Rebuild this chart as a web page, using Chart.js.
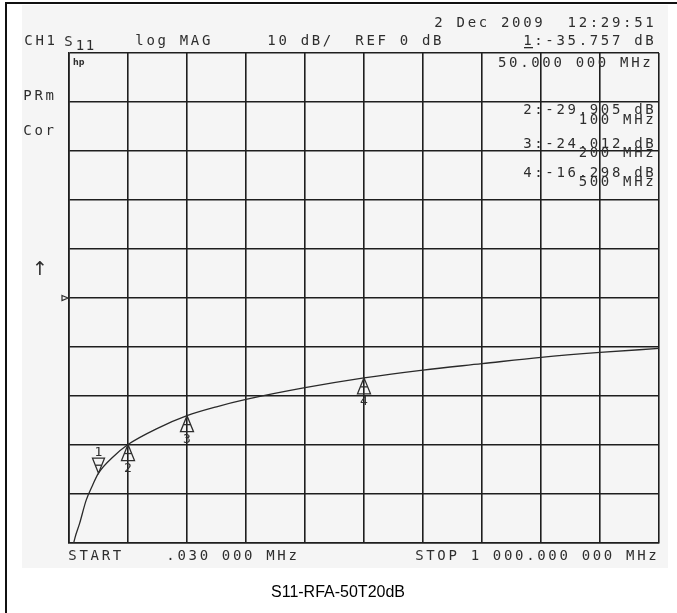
<!DOCTYPE html>
<html><head><meta charset="utf-8">
<script src="https://cdn.jsdelivr.net/npm/chart.js@4.4.1/dist/chart.umd.min.js"></script>
<style>html,body{margin:0;padding:0;background:#fff;}canvas{display:block}</style>
</head><body>
<canvas id="c" width="677" height="613"></canvas>
<script>
// ---- data ----
const freqMHz = [0.03, 5, 10, 18, 29, 40, 50, 75, 100, 150, 200, 250, 300, 400, 500, 600, 700, 800, 900, 1000];
const s11dB   = [-58, -52, -49, -46, -41.3, -38.2, -35.757, -32.4, -29.905, -26.6, -24.012, -22.2, -20.7, -18.3, -16.298, -14.7, -13.4, -12.1, -11.1, -10.3];
const markerNums  = ['1', '2', '3', '4'];
const markerFreqs = [50, 100, 200, 500];
const markerVals  = [-35.757, -29.905, -24.012, -16.298];
const markerFreqLabels = ['50.000 000 MHz', '100 MHz', '200 MHz', '500 MHz'];
const xTicks = [0, 100, 200, 300, 400, 500, 600, 700, 800, 900, 1000];
const yTicks = [-50, -40, -30, -20, -10, 0, 10, 20, 30, 40, 50];
const refLevel = 0;

const INK = '#2e2e2e';
const MONO = '"DejaVu Sans Mono", "Liberation Mono", monospace';

function mono(ctx, s, x, y, align, pitch) {
  pitch = pitch || 11.1;
  const n = s.length;
  const x0 = align === 'right' ? x - n * pitch : x;
  ctx.save();
  ctx.textAlign = 'center';
  ctx.textBaseline = 'alphabetic';
  for (let i = 0; i < n; i++) {
    ctx.fillText(s[i], x0 + i * pitch + pitch / 2, y);
  }
  ctx.restore();
}

const bgPlugin = {
  id: 'bg',
  beforeDraw(chart) {
    const ctx = chart.ctx;
    ctx.save();
    ctx.fillStyle = '#fff';
    ctx.fillRect(0, 0, 677, 613);
    ctx.fillStyle = '#f5f5f5';
    ctx.fillRect(22, 5, 646, 563);
    ctx.fillStyle = '#111';
    ctx.fillRect(5, 2, 672, 2);
    ctx.fillRect(5, 2, 2, 611);
    ctx.restore();
  }
};

const annoPlugin = {
  id: 'anno',
  afterDraw(chart) {
    const ctx = chart.ctx;
    const xs = chart.scales.x, ys = chart.scales.y;
    ctx.save();
    ctx.fillStyle = INK;
    ctx.strokeStyle = INK;
    ctx.font = '14px ' + MONO;
    // header
    mono(ctx, '2 Dec 2009  12:29:51', 655, 27, 'right');
    mono(ctx, 'CH1', 23, 45, 'left');
    mono(ctx, 'S', 63, 46, 'left');
    mono(ctx, '11', 75, 50, 'left', 10);
    mono(ctx, 'log MAG', 134, 45, 'left');
    mono(ctx, '10 dB/', 266, 45, 'left');
    mono(ctx, 'REF 0 dB', 354, 45, 'left');
    mono(ctx, '1:-35.757 dB', 655, 45, 'right');
    ctx.fillRect(524, 47, 9, 1.3);
    // marker readouts
    mono(ctx, markerFreqLabels[0], 652, 67, 'right');
    const rows = [[114, 124], [148, 157], [177, 186]];
    for (let i = 1; i < 4; i++) {
      mono(ctx, markerNums[i] + ':-' + Math.abs(markerVals[i]).toFixed(3) + ' dB', 655, rows[i - 1][0], 'right');
      mono(ctx, markerFreqLabels[i], 655, rows[i - 1][1], 'right');
    }
    // left annotations
    mono(ctx, 'PRm', 22, 100, 'left');
    mono(ctx, 'Cor', 22, 135, 'left');
    ctx.font = '19px "DejaVu Sans", sans-serif';
    ctx.textAlign = 'center';
    ctx.fillText('\u2191', 40, 275);
    // reference position marker
    const ry = ys.getPixelForValue(refLevel);
    ctx.lineWidth = 1.2;
    ctx.beginPath();
    ctx.moveTo(62, ry - 2.5); ctx.lineTo(68, ry); ctx.lineTo(62, ry + 2.5); ctx.closePath();
    ctx.stroke();
    // hp logo
    ctx.font = 'bold 8px "DejaVu Sans", sans-serif';
    ctx.textAlign = 'left';
    ctx.fillText('hp', 73, 65);
    // footer
    ctx.font = '14px ' + MONO;
    mono(ctx, 'START', 67, 560, 'left');
    mono(ctx, '.030 000 MHz', 165, 560, 'left');
    mono(ctx, 'STOP 1 000.000 000 MHz', 658, 560, 'right');
    // markers
    ctx.lineWidth = 1.3;
    for (let i = 0; i < markerFreqs.length; i++) {
      const px = xs.getPixelForValue(markerFreqs[i]);
      const py = ys.getPixelForValue(markerVals[i]);
      ctx.beginPath();
      ctx.font = '13px ' + MONO;
      ctx.textAlign = 'center';
      if (i === 0) {
        ctx.moveTo(px, py); ctx.lineTo(px - 6, py - 15); ctx.lineTo(px + 6, py - 15); ctx.closePath();
        ctx.stroke();
        ctx.beginPath(); ctx.moveTo(px - 3, py - 8); ctx.lineTo(px + 3, py - 8); ctx.stroke();
        ctx.fillText(markerNums[i], px, py - 17);
      } else {
        ctx.moveTo(px, py); ctx.lineTo(px - 6.5, py + 16); ctx.lineTo(px + 6.5, py + 16); ctx.closePath();
        ctx.stroke();
        ctx.beginPath(); ctx.moveTo(px - 3.5, py + 9); ctx.lineTo(px + 3.5, py + 9); ctx.stroke();
        ctx.fillRect(px - 1, py, 2, 3);
        ctx.fillText(markerNums[i], px, py + 27);
      }
    }
    // caption
    ctx.fillStyle = '#000';
    ctx.font = '16px "Liberation Sans", Arial, sans-serif';
    ctx.textAlign = 'center';
    ctx.fillText('S11-RFA-50T20dB', 338, 597);
    ctx.restore();
  }
};

new Chart(document.getElementById('c'), {
  type: 'line',
  data: {
    datasets: [{
      data: freqMHz.map((f, i) => ({ x: f, y: s11dB[i] })),
      borderColor: '#2a2a2a',
      borderWidth: 1.3,
      pointRadius: 0,
      cubicInterpolationMode: 'monotone',
      fill: false
    }]
  },
  options: {
    responsive: false,
    animation: false,
    devicePixelRatio: 1,
    layout: { padding: { left: 69, right: 18, top: 53, bottom: 70 } },
    plugins: { legend: { display: false }, tooltip: { enabled: false } },
    scales: {
      x: {
        type: 'linear', min: xTicks[0], max: xTicks[xTicks.length - 1],
        afterBuildTicks: (s) => { s.ticks = xTicks.map(v => ({ value: v })); },
        ticks: { display: false },
        grid: { color: '#1e1e1e', lineWidth: 1.6, drawTicks: false },
        border: { display: true, color: '#1e1e1e', width: 1.6 }
      },
      y: {
        type: 'linear', min: yTicks[0], max: yTicks[yTicks.length - 1],
        afterBuildTicks: (s) => { s.ticks = yTicks.map(v => ({ value: v })); },
        ticks: { display: false },
        grid: { color: '#1e1e1e', lineWidth: 1.6, drawTicks: false },
        border: { display: true, color: '#1e1e1e', width: 1.6 }
      }
    }
  },
  plugins: [bgPlugin, annoPlugin]
});
</script>
</body></html>
